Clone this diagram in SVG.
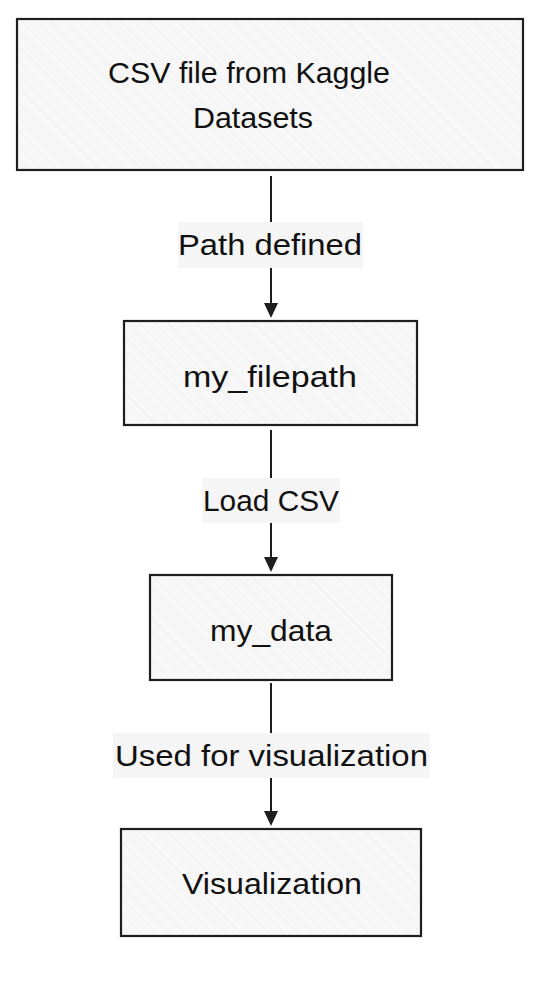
<svg xmlns="http://www.w3.org/2000/svg" width="558" height="982" viewBox="0 0 558 982">
<style>
.box{fill:url(#hatch);stroke:#1e1e1e;stroke-width:2.2}
.t{font-family:"Liberation Sans",Arial,sans-serif;font-size:29px;fill:#111;text-anchor:middle;dominant-baseline:central}
.lbg{fill:#f5f5f5}
.ln{stroke:#1e1e1e;stroke-width:2;fill:none}
.ah{fill:#1e1e1e}
</style>
<defs>
<pattern id="hatch" patternUnits="userSpaceOnUse" width="10" height="10" patternTransform="rotate(-45)">
<rect width="10" height="10" fill="#f7f7f7"/>
<line x1="0" y1="0" x2="0" y2="10" stroke="#ececec" stroke-width="1"/>
</pattern>
</defs>
<rect width="558" height="982" fill="#ffffff"/>
<g id="connectors">
<path class="ln" d="M271 176 L271 304"/>
<path class="ah" d="M264 303 L278 303 L271 318 Z"/>
<rect class="lbg" x="178" y="222" width="185" height="46"/>
<text class="t" x="270" y="245" textLength="184" lengthAdjust="spacingAndGlyphs">Path defined</text>
<path class="ln" d="M271 430 L271 558"/>
<path class="ah" d="M264 557 L278 557 L271 572 Z"/>
<rect class="lbg" x="202" y="478" width="138" height="45"/>
<text class="t" x="271" y="501" textLength="136" lengthAdjust="spacingAndGlyphs">Load CSV</text>
<path class="ln" d="M271 683 L271 812"/>
<path class="ah" d="M264 811 L278 811 L271 826 Z"/>
<rect class="lbg" x="113" y="733" width="317" height="45"/>
<text class="t" x="271.5" y="756" textLength="313" lengthAdjust="spacingAndGlyphs">Used for visualization</text>
</g>
<g id="node-csv">
<rect class="box" x="17" y="19" width="506" height="151"/>
<text class="t" x="249" y="73" textLength="282" lengthAdjust="spacingAndGlyphs">CSV file from Kaggle</text>
<text class="t" x="253" y="118" textLength="120" lengthAdjust="spacingAndGlyphs">Datasets</text>
</g>
<g id="node-filepath">
<rect class="box" x="124" y="321" width="293" height="104"/>
<text class="t" x="270" y="377" textLength="174" lengthAdjust="spacingAndGlyphs">my_filepath</text>
</g>
<g id="node-data">
<rect class="box" x="150" y="575" width="242" height="105"/>
<text class="t" x="271" y="631" textLength="122" lengthAdjust="spacingAndGlyphs">my_data</text>
</g>
<g id="node-vis">
<rect class="box" x="121" y="829" width="300" height="107"/>
<text class="t" x="272" y="884" textLength="180" lengthAdjust="spacingAndGlyphs">Visualization</text>
</g>
</svg>
